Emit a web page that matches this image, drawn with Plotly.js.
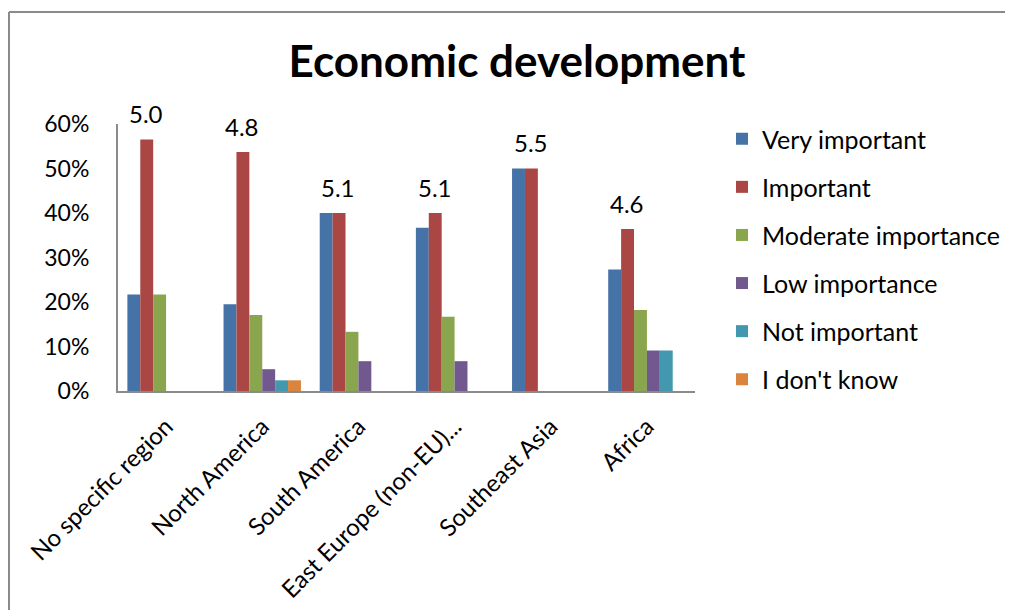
<!DOCTYPE html>
<html>
<head>
<meta charset="utf-8">
<script src="https://cdn.plot.ly/plotly-3.0.1.min.js"></script>
<style>
  html, body { margin: 0; padding: 0; background: #fff; overflow: hidden; }
  #chart { width: 1011px; height: 610px; }
</style>
</head>
<body>
<div id="chart"></div>
<script>
const categories = ["No specific region", "North America", "South America", "East Europe (non-EU)...", "Southeast Asia", "Africa"];
const seriesNames = ["Very important", "Important", "Moderate importance", "Low importance", "Not important", "I don't know"];
const veryImportant     = [0.217, 0.195, 0.400, 0.367, 0.500, 0.273];
const important         = [0.565, 0.537, 0.400, 0.400, 0.500, 0.364];
const moderate          = [0.217, 0.171, 0.133, 0.167, 0.000, 0.182];
const lowImportance     = [0.000, 0.049, 0.067, 0.067, 0.000, 0.091];
const notImportant      = [0.000, 0.024, 0.000, 0.000, 0.000, 0.091];
const dontKnow          = [0.000, 0.024, 0.000, 0.000, 0.000, 0.000];
const averageScores     = ["5.0", "4.8", "5.1", "5.1", "5.5", "4.6"];
const colors = ["#4572A7", "#AA4643", "#89A54E", "#71588F", "#4198AF", "#DB843D"];

const seriesValues = [veryImportant, important, moderate, lowImportance, notImportant, dontKnow];
const FONT = "Lato, 'Open Sans', sans-serif";

const W = 1011, H = 610;
const M = { l: 118, r: 316, t: 124, b: 219 };
const PW = W - M.l - M.r, PH = H - M.t - M.b;
const px2x = px => (px - M.l) / PW;
const py2y = py => (H - M.b - py) / PH;

const traces = seriesValues.map((vals, i) => ({
  type: "bar",
  name: seriesNames[i],
  x: categories,
  y: vals,
  legendgroup: "g" + i,
  marker: { color: colors[i], line: { width: 0 } },
  hoverinfo: "x+y+name"
}));

const annotations = categories.map((c, i) => ({
  x: c,
  y: Math.max(...seriesValues.map(s => s[i])),
  xref: "x", yref: "y",
  text: averageScores[i],
  showarrow: false,
  xshift: -20,
  yshift: 26,
  yanchor: "middle",
  font: { family: FONT, size: 24, color: "#000" }
}));

const borderLine = { color: "#8a8a8a", width: 2 };
const shapes = [
  { type: "line", xref: "paper", yref: "paper", x0: px2x(9), x1: px2x(9), y0: py2y(12), y1: py2y(H), line: borderLine },
  { type: "line", xref: "paper", yref: "paper", x0: px2x(9), x1: px2x(1005), y0: py2y(12), y1: py2y(12), line: borderLine }
];

const layout = {
  width: W, height: H,
  margin: M,
  paper_bgcolor: "#fff", plot_bgcolor: "#fff",
  font: { family: FONT, size: 24, color: "#000" },
  title: {
    text: "<b>Economic development</b>",
    font: { family: FONT, size: 44, color: "#000" },
    x: 517 / W, xanchor: "center", xref: "container",
    y: 1 - 62 / H, yanchor: "middle", yref: "container"
  },
  barmode: "group",
  bargap: 0.195,
  bargroupgap: 0,
  xaxis: {
    type: "category",
    tickangle: -45,
    showline: true, linecolor: "#8a8a8a", linewidth: 2,
    ticks: "", showgrid: false, zeroline: false,
    tickfont: { family: FONT, size: 24, color: "#000" },
    ticklabelstandoff: 10
  },
  yaxis: {
    range: [0, 0.6],
    dtick: 0.1,
    tickformat: ".0%",
    showline: true, linecolor: "#8a8a8a", linewidth: 2,
    ticks: "", showgrid: false, zeroline: false,
    tickfont: { family: FONT, size: 23, color: "#000" },
    ticklabelstandoff: 22
  },
  legend: {
    xref: "container", yref: "container",
    x: 722 / W, y: 1 - 116 / H, xanchor: "left", yanchor: "top",
    traceorder: "grouped",
    tracegroupgap: 12.6,
    font: { family: FONT, size: 25, color: "#000" },
    bgcolor: "rgba(0,0,0,0)",
    borderwidth: 0
  },
  shapes: shapes,
  annotations: annotations,
  showlegend: true
};

Plotly.newPlot("chart", traces, layout, { displayModeBar: false, responsive: false });
</script>
</body>
</html>
